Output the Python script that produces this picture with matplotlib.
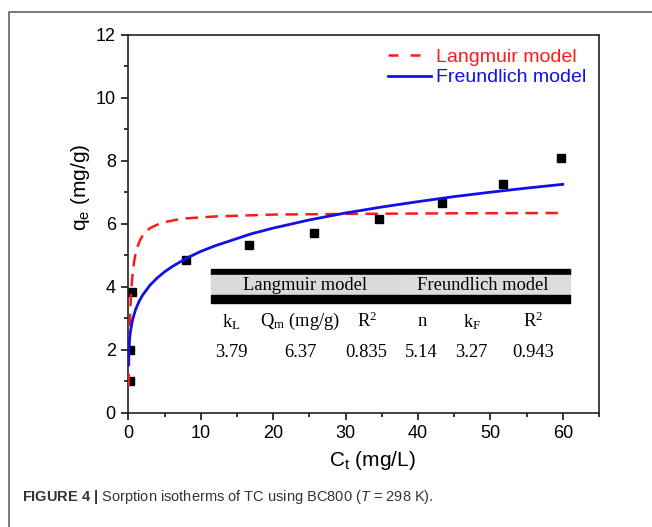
import matplotlib
matplotlib.use("Agg")
import matplotlib.pyplot as plt
from matplotlib.lines import Line2D
from matplotlib.patches import Rectangle
from matplotlib import font_manager
from matplotlib.ticker import MultipleLocator

# -------- DATA --------
# measured sorption points
ct_obs = [0.3, 0.3, 0.5, 7.9, 16.7, 25.7, 34.6, 43.3, 51.8, 59.8]
qe_obs = [1.0, 2.0, 3.82, 4.86, 5.32, 5.71, 6.14, 6.65, 7.25, 8.07]

# Langmuir fit curve
ct_lang = [0.04, 0.07, 0.1, 0.15, 0.2, 0.3, 0.4, 0.5, 0.65, 0.8, 1.0, 1.2, 1.6, 2, 2.5, 3, 4, 5,
           6.5, 8, 12, 20, 30, 45, 60]
qe_lang = [0.84, 1.34, 1.75, 2.30, 2.75, 3.39, 3.85, 4.17, 4.52, 4.79, 5.04, 5.22, 5.47, 5.63,
           5.76, 5.86, 5.97, 6.05, 6.12, 6.17, 6.23, 6.29, 6.31, 6.33, 6.34]

# Freundlich fit curve
ct_freu = [0.02, 0.05, 0.1, 0.2, 0.3, 0.6, 1, 1.5, 2, 3, 4, 5, 6, 8, 10, 12, 17, 20, 25,
           30, 35, 40, 45, 50, 55, 60]
qe_freu = [1.53, 1.83, 2.09, 2.39, 2.59, 2.96, 3.27, 3.54, 3.74, 4.05, 4.28, 4.47, 4.63,
           4.90, 5.12, 5.30, 5.68, 5.86, 6.12, 6.34, 6.53, 6.70, 6.86, 7.00, 7.13, 7.25]

# inset table
group_titles = ['Langmuir model', 'Freundlich model']
col_headers = [r'$\mathregular{k_L}$', r'$\mathregular{Q_m}$ (mg/g)', r'$\mathregular{R^2}$',
               'n', r'$\mathregular{k_F}$', r'$\mathregular{R^2}$']
col_values = ['3.79', '6.37', '0.835', '5.14', '3.27', '0.943']
# -------- DATA. --------

# ---- fonts
names = {f.name for f in font_manager.fontManager.ttflist}
capFont = 'Liberation Sans Narrow' if 'Liberation Sans Narrow' in names else 'Liberation Sans'
capSize = 11.5 if capFont == 'Liberation Sans Narrow' else 10.5
plt.rcParams['font.family'] = 'Liberation Sans'
plt.rcParams['mathtext.fontset'] = 'custom'
plt.rcParams['mathtext.rm'] = capFont
plt.rcParams['mathtext.it'] = capFont + ':italic'
plt.rcParams['mathtext.bf'] = capFont + ':bold'

W, H = 652, 527
fig = plt.figure(figsize=(W / 100, H / 100), dpi=100)
ax = fig.add_axes([128.3 / W, 1 - 412.7 / H, 470.7 / W, 378 / H])

# ---- outer frame of the figure panel
fig.add_artist(Line2D([9 / W, 9 / W, 1], [0, 1 - 12 / H, 1 - 12 / H],
                      transform=fig.transFigure, color='#555555', lw=1.1))

# ---- curves and points
ax.plot(ct_lang, qe_lang, color='#ff1a1a', lw=1.8, dashes=(5, 3), label='Langmuir model', zorder=3)
ax.plot(ct_freu, qe_freu, color='#1010e8', lw=2.0, label='Freundlich model', zorder=4)
ax.plot(ct_obs, qe_obs, 's', color='black', ms=5.5, zorder=2)

ax.set_xlim(0, 65)
ax.set_ylim(0, 12)
ax.xaxis.set_major_locator(MultipleLocator(10))
ax.xaxis.set_minor_locator(MultipleLocator(5))
ax.yaxis.set_major_locator(MultipleLocator(2))
ax.yaxis.set_minor_locator(MultipleLocator(1))
ax.tick_params(which='major', direction='out', length=5, width=1.1, labelsize=13, pad=4,
               top=False, right=False)
ax.tick_params(which='minor', direction='out', length=3, width=1.1, top=False, right=False)
for s in ax.spines.values():
    s.set_linewidth(1.2)
    s.set_color('#222222')

ax.set_xlabel(r'$\mathregular{C_t}$ (mg/L)', fontsize=15)
ax.xaxis.set_label_coords(0.518, -0.095)
ax.set_ylabel(r'$\mathregular{q_e}$ (mg/g)', fontsize=15)
ax.yaxis.set_label_coords(-0.077, 0.596)

# ---- legend
leg = ax.legend(loc='upper left', bbox_to_anchor=(0.552, 0.964), frameon=False, fontsize=14,
                handlelength=2.2, handletextpad=0.25, labelspacing=0.15, borderpad=0,
                borderaxespad=0)
for t, c in zip(leg.get_texts(), ['#ff1a1a', '#1010e8']):
    t.set_color(c)
leg.get_lines()[0].set_dashes((4, 4.8))

# ---- inset table
tx0, tx1, tmid = 0.175, 0.938, 0.577
ax.add_patch(Rectangle((tx0, 0.3642), tx1 - tx0, 0.0152, transform=ax.transAxes,
                       color='black', zorder=5))
ax.add_patch(Rectangle((tx0, 0.3114), tmid - tx0 - 0.001, 0.0528, transform=ax.transAxes,
                       color='#d9d9d9', zorder=5))
ax.add_patch(Rectangle((tmid + 0.001, 0.3114), tx1 - tmid - 0.001, 0.0528, transform=ax.transAxes,
                       color='#dcdcdc', zorder=5))
ax.add_patch(Rectangle((tx0, 0.2894), tx1 - tx0, 0.022, transform=ax.transAxes,
                       color='black', zorder=5))
for title, xc in zip(group_titles, [0.375, 0.754]):
    ax.text(xc, 0.3376, title, transform=ax.transAxes, ha='center', va='center',
            fontsize=13.3, family='Liberation Serif', zorder=6)
col_x = [0.2197, 0.3648, 0.5065, 0.6233, 0.7295, 0.8597]
for xc, hd, val in zip(col_x, col_headers, col_values):
    ax.text(xc, 0.2407, hd, transform=ax.transAxes, ha='center', va='center',
            fontsize=13.3, family='Liberation Serif', zorder=6)
    ax.text(xc, 0.1587, val, transform=ax.transAxes, ha='center', va='center',
            fontsize=13.3, family='Liberation Serif', zorder=6)

# ---- caption
fig.text(22 / W, 1 - 497 / H,
         r'$\mathbf{FIGURE\ 4\ |}$ Sorption isotherms of TC using BC800 ($\mathit{T}$ = 298 K).',
         fontsize=capSize, family=capFont, color='#333333', va='center', ha='left')

plt.savefig('out.png', dpi=100)
